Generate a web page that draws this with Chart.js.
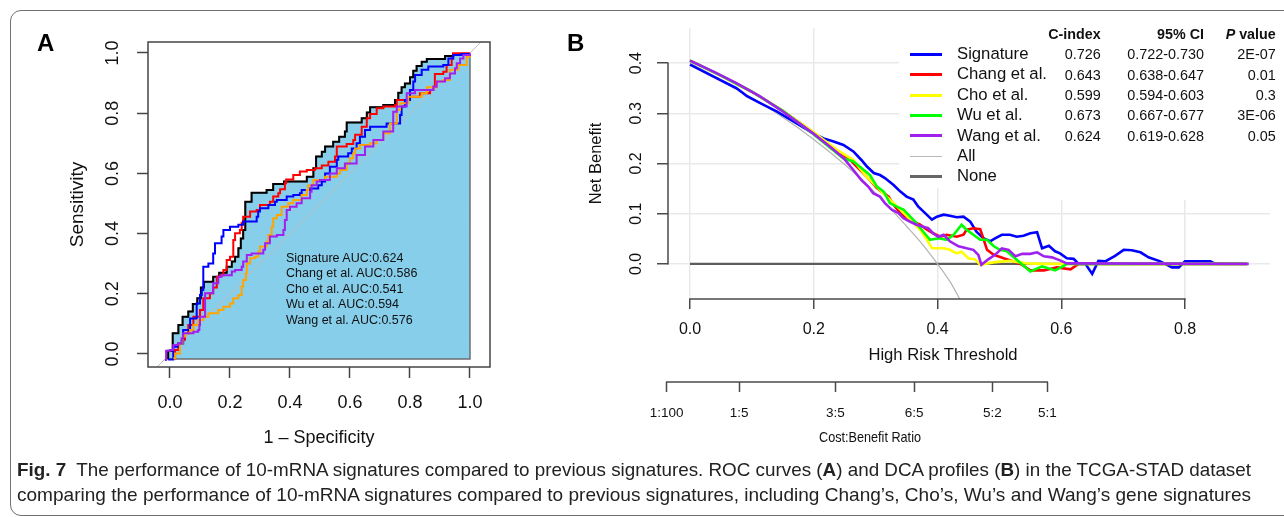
<!DOCTYPE html>
<html>
<head>
<meta charset="utf-8">
<script src="https://cdn.jsdelivr.net/npm/chart.js@4.4.1/dist/chart.umd.min.js"></script>
<style>
  html, body { margin:0; padding:0; background:#fff; }
  body { width:1284px; height:517px; position:relative; overflow:hidden; font-family:"Liberation Sans", Arial, Helvetica, sans-serif; color:#111; }
  #frame { position:absolute; left:10px; top:10px; width:1320px; height:506px; border:1.5px solid #707070; border-radius:11px; box-sizing:border-box; }
  canvas { position:absolute; top:0; }
  #cA { left:0; }
  #cB { left:560px; }
  .t { position:absolute; white-space:nowrap; line-height:1; }
  .mask { position:absolute; background:#fff; }
  .lgline { position:absolute; height:0; }
  .cap { position:absolute; white-space:nowrap; line-height:1; font-size:19px; transform-origin:0 50%; color:#222; }
</style>
</head>
<body>
<div id="frame"></div>
<canvas id="cA" width="560" height="460"></canvas>
<canvas id="cB" width="724" height="460"></canvas>
<div id="overlay"></div>
<script>
// ---------------- DATA ----------------
// Panel A: ROC curves, [1 - specificity, sensitivity]
const rocModels = ['Signature', 'Chang et al.', 'Cho et al.', 'Wu et al.', 'Wang et al.'];
const aucValues = ['0.624', '0.586', '0.541', '0.594', '0.576'];
const rocTicks = [0, 0.2, 0.4, 0.6, 0.8, 1.0];
const refDiagonal = [-0.1, 1.1];

const rocSignature = [[-0.006,-0.018],[-0.006,0.011],[0.009,0.011],[0.009,0.069],[0.028,0.069],[0.028,0.096],[0.042,0.096],[0.042,0.124],[0.061,0.124],[0.061,0.141],[0.076,0.141],[0.076,0.166],[0.091,0.166],[0.091,0.185],[0.103,0.185],[0.103,0.221],[0.113,0.221],[0.113,0.240],[0.144,0.240],[0.144,0.257],[0.164,0.257],[0.164,0.270],[0.189,0.270],[0.189,0.290],[0.206,0.290],[0.206,0.307],[0.217,0.307],[0.217,0.323],[0.228,0.323],[0.228,0.351],[0.236,0.351],[0.236,0.384],[0.244,0.384],[0.244,0.412],[0.251,0.412],[0.251,0.506],[0.272,0.506],[0.272,0.536],[0.322,0.536],[0.322,0.545],[0.344,0.545],[0.344,0.565],[0.380,0.565],[0.380,0.573],[0.456,0.573],[0.456,0.589],[0.478,0.589],[0.478,0.617],[0.487,0.617],[0.487,0.656],[0.506,0.656],[0.506,0.672],[0.517,0.672],[0.517,0.689],[0.544,0.689],[0.544,0.705],[0.564,0.705],[0.564,0.722],[0.583,0.722],[0.583,0.739],[0.589,0.739],[0.589,0.769],[0.639,0.769],[0.639,0.783],[0.656,0.783],[0.656,0.802],[0.667,0.802],[0.667,0.820],[0.711,0.820],[0.711,0.827],[0.750,0.827],[0.750,0.844],[0.761,0.844],[0.761,0.868],[0.772,0.868],[0.772,0.886],[0.783,0.886],[0.783,0.899],[0.800,0.899],[0.800,0.919],[0.811,0.919],[0.811,0.941],[0.822,0.941],[0.822,0.957],[0.839,0.957],[0.839,0.971],[0.856,0.971],[0.856,0.980],[0.917,0.980],[0.917,0.990],[0.944,0.990],[0.944,0.997],[1.0,0.997]];

const rocChang = [[0.011,-0.014],[0.017,0.013],[0.028,0.035],[0.039,0.047],[0.05,0.069],[0.061,0.096],[0.078,0.124],[0.1,0.146],[0.111,0.185],[0.128,0.185],[0.133,0.202],[0.144,0.221],[0.156,0.257],[0.167,0.262],[0.178,0.279],[0.189,0.312],[0.2,0.323],[0.211,0.379],[0.217,0.401],[0.233,0.412],[0.239,0.436],[0.244,0.456],[0.267,0.473],[0.289,0.478],[0.3,0.495],[0.333,0.506],[0.344,0.523],[0.361,0.534],[0.367,0.547],[0.383,0.567],[0.387,0.58],[0.411,0.595],[0.433,0.606],[0.456,0.611],[0.483,0.617],[0.506,0.626],[0.522,0.626],[0.528,0.639],[0.55,0.656],[0.556,0.689],[0.589,0.698],[0.611,0.711],[0.617,0.728],[0.639,0.755],[0.656,0.783],[0.667,0.797],[0.689,0.816],[0.711,0.822],[0.75,0.827],[0.756,0.844],[0.8,0.855],[0.833,0.866],[0.867,0.877],[0.878,0.888],[0.883,0.93],[0.911,0.938],[0.922,0.96],[0.939,0.982],[0.944,0.999],[0.983,0.999],[1.0,0.999]];

const rocCho = [[0.011,-0.014],[0.017,0.002],[0.033,0.035],[0.042,0.058],[0.05,0.069],[0.067,0.08],[0.078,0.096],[0.094,0.113],[0.111,0.124],[0.128,0.135],[0.161,0.146],[0.178,0.157],[0.2,0.168],[0.211,0.185],[0.228,0.196],[0.239,0.224],[0.244,0.246],[0.253,0.268],[0.256,0.301],[0.267,0.318],[0.283,0.323],[0.294,0.34],[0.3,0.357],[0.322,0.373],[0.328,0.395],[0.339,0.423],[0.344,0.451],[0.356,0.462],[0.372,0.489],[0.394,0.501],[0.411,0.512],[0.439,0.528],[0.456,0.545],[0.461,0.561],[0.478,0.578],[0.517,0.589],[0.556,0.6],[0.567,0.611],[0.589,0.633],[0.6,0.65],[0.611,0.667],[0.617,0.683],[0.633,0.694],[0.667,0.7],[0.689,0.711],[0.711,0.733],[0.733,0.766],[0.756,0.811],[0.767,0.833],[0.794,0.855],[0.839,0.866],[0.856,0.886],[0.889,0.905],[0.911,0.91],[0.933,0.944],[0.961,0.96],[0.989,0.988],[1.0,0.997]];

const rocWu = [[-0.006,-0.018],[0.011,-0.018],[0.011,0.024],[0.028,0.035],[0.044,0.08],[0.067,0.118],[0.089,0.168],[0.1,0.196],[0.106,0.213],[0.111,0.29],[0.128,0.301],[0.144,0.334],[0.15,0.368],[0.172,0.39],[0.178,0.412],[0.2,0.423],[0.228,0.429],[0.244,0.44],[0.278,0.44],[0.289,0.456],[0.294,0.473],[0.3,0.484],[0.322,0.484],[0.328,0.495],[0.35,0.506],[0.356,0.512],[0.389,0.523],[0.411,0.528],[0.433,0.534],[0.439,0.545],[0.467,0.55],[0.494,0.561],[0.506,0.573],[0.517,0.6],[0.533,0.622],[0.556,0.645],[0.561,0.656],[0.594,0.667],[0.606,0.683],[0.622,0.7],[0.633,0.722],[0.65,0.744],[0.667,0.755],[0.722,0.766],[0.767,0.794],[0.772,0.822],[0.783,0.844],[0.8,0.877],[0.811,0.905],[0.817,0.927],[0.839,0.944],[0.861,0.955],[0.911,0.96],[0.928,0.982],[0.944,0.993],[0.972,0.997],[1.0,0.997]];

const rocWang = [[-0.017,-0.02],[-0.013,0.011],[0,0.013],[0.011,0.03],[0.028,0.035],[0.039,0.052],[0.044,0.069],[0.078,0.074],[0.094,0.08],[0.098,0.096],[0.1,0.124],[0.117,0.141],[0.117,0.202],[0.128,0.202],[0.144,0.235],[0.161,0.257],[0.172,0.262],[0.206,0.274],[0.217,0.279],[0.239,0.29],[0.244,0.307],[0.256,0.329],[0.272,0.334],[0.294,0.334],[0.311,0.346],[0.317,0.368],[0.333,0.39],[0.356,0.395],[0.378,0.412],[0.383,0.445],[0.389,0.478],[0.4,0.489],[0.422,0.501],[0.439,0.517],[0.467,0.539],[0.472,0.561],[0.489,0.573],[0.5,0.578],[0.533,0.6],[0.556,0.617],[0.583,0.633],[0.622,0.661],[0.65,0.689],[0.678,0.711],[0.711,0.739],[0.744,0.805],[0.756,0.822],[0.789,0.866],[0.817,0.877],[0.878,0.888],[0.889,0.905],[0.917,0.916],[0.933,0.932],[0.95,0.949],[0.956,0.966],[0.967,0.982],[0.978,0.993],[1.0,0.999]];

// Panel B: decision curves, [high-risk threshold, net benefit]
const dcaModels = ['Signature', 'Chang et al.', 'Cho et al.', 'Wu et al.', 'Wang et al.', 'All', 'None'];
const cIndex = ['0.726', '0.643', '0.599', '0.673', '0.624'];
const ci95 = ['0.722-0.730', '0.638-0.647', '0.594-0.603', '0.667-0.677', '0.619-0.628'];
const pValues = ['2E-07', '0.01', '0.3', '3E-06', '0.05'];
const dcaXTicks = [0, 0.2, 0.4, 0.6, 0.8];
const dcaYTicks = [0, 0.1, 0.2, 0.3, 0.4];
const cbLabels = ['1:100', '1:5', '3:5', '6:5', '5:2', '5:1'];

const dcaSignature = [[0,0.397],[0.038,0.373],[0.075,0.35],[0.086,0.34],[0.092,0.334],[0.119,0.317],[0.14,0.304],[0.167,0.284],[0.199,0.26],[0.216,0.25],[0.232,0.244],[0.248,0.237],[0.264,0.224],[0.277,0.207],[0.286,0.194],[0.297,0.181],[0.307,0.177],[0.315,0.171],[0.329,0.157],[0.34,0.144],[0.35,0.134],[0.361,0.128],[0.369,0.114],[0.38,0.101],[0.391,0.088],[0.399,0.094],[0.41,0.098],[0.42,0.096],[0.431,0.093],[0.442,0.094],[0.453,0.084],[0.463,0.064],[0.474,0.051],[0.485,0.045],[0.493,0.051],[0.504,0.058],[0.517,0.058],[0.528,0.054],[0.539,0.056],[0.55,0.061],[0.561,0.063],[0.569,0.031],[0.58,0.036],[0.59,0.025],[0.598,0.021],[0.609,0.011],[0.62,0.01],[0.628,0.0],[0.639,0.0],[0.65,-0.02],[0.66,0.006],[0.671,0.005],[0.687,0.016],[0.701,0.028],[0.714,0.027],[0.728,0.023],[0.741,0.013],[0.76,0.005],[0.779,-0.007],[0.79,-0.007],[0.8,0.005],[0.841,0.005],[0.849,0]];

const dcaChang = [[0,0.405],[0.05,0.375],[0.1,0.343],[0.15,0.305],[0.199,0.262],[0.221,0.24],[0.243,0.221],[0.259,0.207],[0.275,0.187],[0.291,0.167],[0.302,0.151],[0.313,0.141],[0.321,0.134],[0.329,0.118],[0.34,0.101],[0.35,0.091],[0.361,0.084],[0.372,0.078],[0.383,0.068],[0.393,0.061],[0.404,0.054],[0.415,0.058],[0.431,0.054],[0.442,0.058],[0.447,0.068],[0.458,0.071],[0.469,0.069],[0.474,0.051],[0.48,0.028],[0.491,0.018],[0.507,0.011],[0.523,0.005],[0.537,-0.002],[0.55,-0.013],[0.572,-0.013],[0.593,-0.007],[0.615,-0.011],[0.628,0.0],[0.9,0]];

const dcaCho = [[0,0.405],[0.05,0.375],[0.1,0.343],[0.15,0.305],[0.2,0.262],[0.24,0.225],[0.264,0.207],[0.283,0.177],[0.296,0.161],[0.307,0.147],[0.318,0.134],[0.329,0.121],[0.34,0.108],[0.356,0.088],[0.372,0.068],[0.383,0.048],[0.391,0.031],[0.41,0.031],[0.42,0.028],[0.431,0.021],[0.439,0.024],[0.45,0.011],[0.461,0.009],[0.469,-0.002],[0.49,0.003],[0.517,0.006],[0.544,0.001],[0.572,0],[0.9,0]];

const dcaWu = [[0,0.405],[0.05,0.375],[0.1,0.343],[0.15,0.305],[0.2,0.258],[0.23,0.228],[0.248,0.21],[0.264,0.204],[0.277,0.191],[0.291,0.177],[0.302,0.154],[0.313,0.144],[0.323,0.121],[0.334,0.114],[0.345,0.108],[0.356,0.094],[0.366,0.081],[0.377,0.064],[0.388,0.048],[0.402,0.051],[0.415,0.048],[0.426,0.058],[0.439,0.078],[0.447,0.068],[0.458,0.058],[0.469,0.048],[0.48,0.048],[0.491,0.035],[0.501,0.028],[0.512,0.025],[0.528,0.008],[0.55,-0.015],[0.569,-0.005],[0.58,-0.009],[0.59,-0.013],[0.604,-0.004],[0.609,0],[0.9,0]];

const dcaWang = [[0,0.405],[0.038,0.383],[0.075,0.36],[0.113,0.334],[0.146,0.307],[0.172,0.284],[0.199,0.26],[0.226,0.234],[0.248,0.211],[0.264,0.187],[0.277,0.167],[0.288,0.154],[0.296,0.141],[0.307,0.134],[0.315,0.121],[0.326,0.108],[0.337,0.101],[0.345,0.091],[0.356,0.084],[0.366,0.078],[0.377,0.074],[0.385,0.071],[0.393,0.061],[0.401,0.054],[0.41,0.058],[0.42,0.045],[0.434,0.035],[0.447,0.031],[0.458,0.028],[0.466,0.018],[0.471,-0.002],[0.482,0.009],[0.493,0.018],[0.504,0.031],[0.515,0.028],[0.526,0.015],[0.537,0.02],[0.55,0.02],[0.561,0.023],[0.572,0.015],[0.585,0.013],[0.598,0.007],[0.609,0.001],[0.903,0]];

const dcaAll = [[0,0.40],[0.05,0.367],[0.1,0.331],[0.15,0.292],[0.2,0.248],[0.25,0.198],[0.3,0.141],[0.35,0.075],[0.375,0.04],[0.4,0.0],[0.42,-0.035],[0.436,-0.07]];
const dcaNone = [[0,0],[0.9,0]];

// ---------------- HELPERS ----------------
const FONT = '"Liberation Sans", Arial, Helvetica, sans-serif';
Chart.defaults.font.family = FONT;
Chart.defaults.color = '#111';
const toXY = arr => arr.map(([x, y]) => ({ x, y }));

const rAxis = {
  id: 'rAxis',
  afterDraw(chart, args, opts) {
    const { ctx, scales } = chart;
    ctx.save();
    ctx.strokeStyle = opts.color; ctx.lineWidth = opts.width;
    (opts.lines || []).forEach(([id, a, b]) => {
      const s = scales[id];
      ctx.beginPath();
      if (s.isHorizontal()) {
        const y = s.top;
        ctx.moveTo(s.getPixelForValue(a) - opts.width / 2, y); ctx.lineTo(s.getPixelForValue(b) + opts.width / 2, y);
      } else {
        const x = s.right;
        ctx.moveTo(x, s.getPixelForValue(a) + opts.width / 2); ctx.lineTo(x, s.getPixelForValue(b) - opts.width / 2);
      }
      ctx.stroke();
    });
    if (opts.box) {
      const ca = chart.chartArea;
      ctx.strokeRect(ca.left, ca.top, ca.right - ca.left, ca.bottom - ca.top);
    }
    ctx.restore();
  }
};

// ---------------- PANEL A ----------------
const polyBase = -0.017;
const lineA = (data, color, order) => ({ data: toXY(data), borderColor: color, borderWidth: 2, stepped: 'before', fill: false, order });
new Chart(document.getElementById('cA'), {
  type: 'line',
  data: {
    datasets: [
      lineA(rocWang, '#A020F0', 0),
      lineA(rocCho, '#FFA500', 1),
      lineA(rocWu, '#0000FF', 2),
      lineA(rocChang, '#FF0000', 3),
      lineA(rocSignature, '#000000', 4),
      { data: refDiagonal.map(v => ({ x: v, y: v })), borderColor: '#bdbdbd', borderWidth: 1, fill: false, order: 5 },
      { data: [{ x: rocSignature[0][0], y: polyBase }, ...toXY(rocSignature), { x: 1, y: polyBase }, { x: rocSignature[0][0], y: polyBase }],
        fill: 'shape', backgroundColor: '#87CEEB', borderColor: '#6e6e6e', borderWidth: 1.5, stepped: 'before', order: 6 }
    ]
  },
  options: {
    responsive: false, animation: false, devicePixelRatio: 1,
    layout: { padding: { top: 42, right: 70, left: 0, bottom: 0 } },
    plugins: { legend: { display: false }, tooltip: { enabled: false },
      rAxis: { color: '#444', width: 1.5, lines: [], box: true } },
    elements: { point: { radius: 0 }, line: { tension: 0 } },
    scales: {
      x: { type: 'linear', min: -0.0733, max: 1.0667,
        afterBuildTicks: s => { s.ticks = rocTicks.map(v => ({ value: v })); },
        afterFit: s => { s.height = 93; },
        border: { display: false },
        grid: { drawOnChartArea: false, tickLength: 11, tickColor: '#444', tickWidth: 1.5 },
        ticks: { callback: v => v.toFixed(1), font: { size: 18, lineHeight: 1 }, color: '#111', padding: 16, maxRotation: 0, autoSkip: false },
        title: { display: true, text: '1 – Specificity', font: { size: 18, lineHeight: 1 }, color: '#111', padding: { top: 0, bottom: 13 } } },
      y: { type: 'linear', min: -0.0432, max: 1.0365,
        afterBuildTicks: s => { s.ticks = rocTicks.map(v => ({ value: v })); },
        afterFit: s => { s.width = 148; },
        border: { display: false },
        grid: { drawOnChartArea: false, tickLength: 11, tickColor: '#444', tickWidth: 1.5 },
        ticks: { callback: v => v.toFixed(1), font: { size: 18, lineHeight: 1 }, color: '#111', padding: 11.5, minRotation: 90, maxRotation: 90, crossAlign: 'center', autoSkip: false },
        title: { display: true, text: 'Sensitivity', font: { size: 19, lineHeight: 1 }, color: '#111', padding: { top: 68, bottom: 0 } } }
    }
  },
  plugins: [rAxis]
});

// ---------------- PANEL B ----------------
const cbTickValues = cbLabels.map(l => { const [c, b] = l.split(':').map(Number); return c / (c + b); });
const lineB = (data, color, order, w) => ({ data: toXY(data), borderColor: color, borderWidth: w || 2.6, fill: false, order });
new Chart(document.getElementById('cB'), {
  type: 'line',
  data: {
    datasets: [
      lineB(dcaWang, '#A020F0', 0),
      lineB(dcaWu, '#00FF00', 1),
      lineB(dcaCho, '#FFFF00', 2),
      lineB(dcaChang, '#FF0000', 3),
      lineB(dcaSignature, '#0000FF', 4),
      Object.assign(lineB(dcaAll, '#b3b3b3', 5, 1.2), { cubicInterpolationMode: 'monotone' }),
      lineB(dcaNone, '#5c5c5c', 6, 2.2)
    ]
  },
  options: {
    responsive: false, animation: false, devicePixelRatio: 1,
    layout: { padding: { top: 28, right: 14, left: 0, bottom: 0 } },
    plugins: { legend: { display: false }, tooltip: { enabled: false },
      rAxis: { color: '#4a4a4a', width: 1.5, lines: [['y', 0, 0.4], ['x', 0, 0.8], ['x2', cbTickValues[0], cbTickValues[cbTickValues.length - 1]]] } },
    elements: { point: { radius: 0 }, line: { tension: 0 } },
    scales: {
      x: { type: 'linear', position: 'bottom', weight: 0, min: -0.035556, max: 0.93737,
        afterBuildTicks: s => { s.ticks = dcaXTicks.map(v => ({ value: v })); },
        afterFit: s => { s.height = 83; },
        border: { display: false },
        grid: { color: '#e9e9e9', lineWidth: 1.5, tickLength: 10, tickColor: '#4a4a4a', tickWidth: 1.5 },
        ticks: { callback: v => v.toFixed(1), font: { size: 16, lineHeight: 1 }, color: '#111', padding: 13, maxRotation: 0, autoSkip: false },
        title: { display: false } },
      x2: { type: 'linear', position: 'bottom', weight: 1, min: 0.01272, max: 1.31515,
        afterBuildTicks: s => { s.ticks = cbTickValues.map(v => ({ value: v })); },
        afterFit: s => { s.height = 78; },
        border: { display: false },
        grid: { drawOnChartArea: false, tickLength: 10, tickColor: '#4a4a4a', tickWidth: 1.5 },
        ticks: { callback: (v, i) => cbLabels[i], font: { size: 13.5, lineHeight: 1 }, color: '#111', padding: 14.5, maxRotation: 0, autoSkip: false },
        title: { display: false } },
      y: { type: 'linear', min: -0.07, max: 0.47,
        afterBuildTicks: s => { s.ticks = dcaYTicks.map(v => ({ value: v })); },
        afterFit: s => { s.width = 108; },
        border: { display: false },
        grid: { color: '#e9e9e9', lineWidth: 1.5, tickLength: 11, tickColor: '#4a4a4a', tickWidth: 1.5 },
        ticks: { callback: v => v.toFixed(1), font: { size: 16, lineHeight: 1 }, color: '#111', padding: 8.9, minRotation: 90, maxRotation: 90, crossAlign: 'center', autoSkip: false },
        title: { display: true, text: 'Net Benefit', font: { size: 16.5, lineHeight: 1 }, color: '#111', padding: { top: 28.4, bottom: 0 } } }
    }
  },
  plugins: [rAxis]
});

// ---------------- TEXT OVERLAYS ----------------
const ov = document.getElementById('overlay');
function txt(html, css) { const d = document.createElement('div'); d.className = 't'; d.innerHTML = html; Object.assign(d.style, css); ov.appendChild(d); return d; }
function box(css, cls) { const d = document.createElement('div'); d.className = cls; Object.assign(d.style, css); ov.appendChild(d); return d; }
function fitCentered(d, cx, width) {
  const w = d.getBoundingClientRect().width;
  d.style.transformOrigin = '0 50%';
  d.style.left = (cx - width / 2) + 'px';
  d.style.transform = 'scaleX(' + (width / w) + ')';
}

// panel letters
txt('A', { left: '37px', top: '31px', fontSize: '24px', fontWeight: 'bold', color: '#000' });
txt('B', { left: '567px', top: '31px', fontSize: '24px', fontWeight: 'bold', color: '#000' });

// AUC annotations
rocModels.forEach((m, i) => {
  const c = 258.3 + i * 15.4;
  txt(m + ' AUC:' + aucValues[i], { left: '286px', top: (c - 6.25) + 'px', fontSize: '12.5px', color: '#111' });
});

// axis titles of panel B (off-centre in the reference)
txt('High Risk Threshold', { left: '943px', top: (355 - 8.3) + 'px', fontSize: '16.6px', transform: 'translateX(-50%)' });
const cbt = txt('Cost:Benefit Ratio', { left: '819px', top: (436 - 7.5) + 'px', fontSize: '15px' });
fitCentered(cbt, 870, 102);

// legend background masks
box({ left: '899px', top: '20px', width: '160px', height: '168px' }, 'mask');
box({ left: '1055px', top: '20px', width: '229px', height: '180px' }, 'mask');

// legend header
const hdrCss = (right) => ({ right: (1284 - right) + 'px', top: (34 - 7.15) + 'px', fontSize: '14.3px', fontWeight: 'bold' });
txt('C-index', hdrCss(1100.7));
txt('95% CI', hdrCss(1204));
txt('<i>P</i> value', hdrCss(1275.7));

const lgColors = ['#0000FF', '#FF0000', '#FFFF00', '#00FF00', '#A020F0', '#b8b8b8', '#666666'];
const lgWidths = [3, 3, 3, 3, 3, 1.5, 2.5];
dcaModels.forEach((m, i) => {
  const c = 54.3 + i * 20.4;
  box({ left: '910px', top: (c - lgWidths[i] / 2) + 'px', width: '32px', height: lgWidths[i] + 'px', background: lgColors[i] }, 'lgline');
  txt(m, { left: '957px', top: (c - 8.35) + 'px', fontSize: '16.7px' });
  if (i < cIndex.length) {
    const numCss = (right) => ({ right: (1284 - right) + 'px', top: (c - 7.2) + 'px', fontSize: '14.4px' });
    txt(cIndex[i], numCss(1100.7));
    txt(ci95[i], numCss(1204));
    txt(pValues[i], numCss(1275.7));
  }
});

// caption
const capLines = [
  '<b>Fig. 7</b>&nbsp; The performance of 10-mRNA signatures compared to previous signatures. ROC curves (<b>A</b>) and DCA profiles (<b>B</b>) in the TCGA-STAD dataset',
  'comparing the performance of 10-mRNA signatures compared to previous signatures, including Chang’s, Cho’s, Wu’s and Wang’s gene signatures'
];
const capCenters = [469, 494];
const capWidth = 1234;
capLines.forEach((h, i) => {
  const d = document.createElement('div');
  d.className = 'cap';
  d.innerHTML = h;
  d.style.left = '17px';
  d.style.top = (capCenters[i] - 9.5) + 'px';
  ov.appendChild(d);
  const w = d.getBoundingClientRect().width;
  d.style.transform = 'scaleX(' + (capWidth / w) + ')';
});
</script>
</body>
</html>
